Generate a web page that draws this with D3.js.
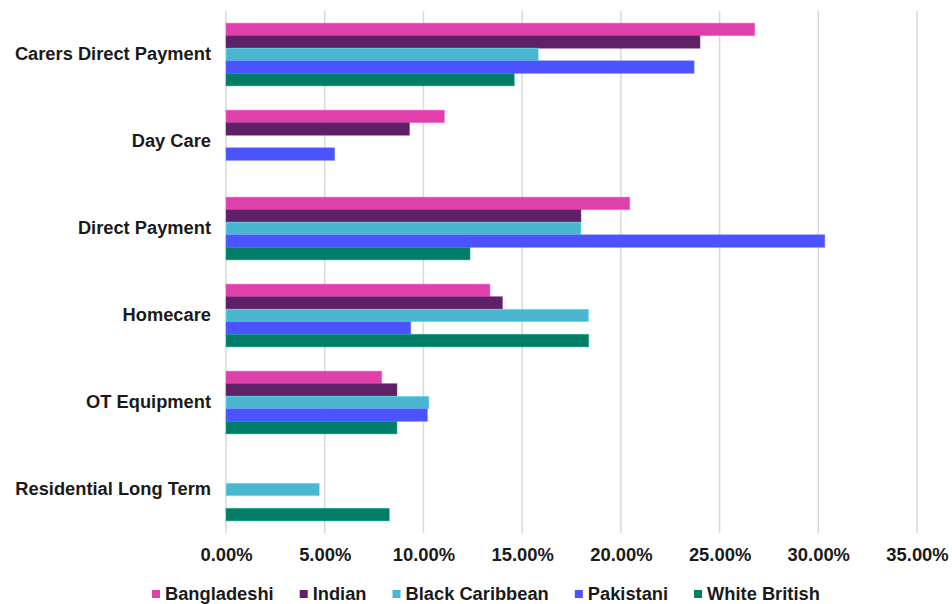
<!DOCTYPE html>
<html>
<head>
<meta charset="utf-8">
<script src="https://cdn.jsdelivr.net/npm/d3@7"></script>
<style>
  html, body { margin: 0; padding: 0; background: #fff; }
  svg text { font-family: "Liberation Sans", Arial, sans-serif; font-weight: bold; fill: #1a1a1a; }
</style>
</head>
<body>
<svg id="chart" width="952" height="604"></svg>
<script>
const categories = ["Carers Direct Payment", "Day Care", "Direct Payment", "Homecare", "OT Equipment", "Residential Long Term"];
const seriesNames = ["Bangladeshi", "Indian", "Black Caribbean", "Pakistani", "White British"];
const seriesColors = ["#E040AA", "#5E2166", "#4AB6D0", "#4B53FF", "#007C67"];
// values in percent, per series, in category order (null = no bar)
const bangladeshi    = [26.78, 11.06, 20.45, 13.37, 7.89, null];
const indian         = [24.01, 9.29, 17.98, 14.00, 8.66, null];
const blackCaribbean = [15.82, null, 17.98, 18.37, 10.28, 4.73];
const pakistani      = [23.71, 5.50, 30.33, 9.36, 10.20, null];
const whiteBritish   = [14.60, null, 12.36, 18.37, 8.66, 8.27];
const seriesValues = [bangladeshi, indian, blackCaribbean, pakistani, whiteBritish];
const xTicks = [0, 5, 10, 15, 20, 25, 30, 35];

const svg = d3.select("#chart");
const x = d3.scaleLinear().domain([0, 35]).range([226, 917]);
const y = d3.scaleBand().domain(categories).range([11, 533]).paddingInner(0.279).paddingOuter(0.1395);
const ySub = d3.scaleBand().domain(seriesNames).range([0, y.bandwidth()]);

// gridlines
svg.append("g").selectAll("line").data(xTicks).join("line")
  .attr("x1", d => x(d)).attr("x2", d => x(d))
  .attr("y1", 11).attr("y2", 533)
  .attr("stroke", "#d9d9d9").attr("stroke-width", 1.5);

// bars
const rows = [];
categories.forEach((c, ci) => {
  seriesNames.forEach((s, si) => {
    const v = seriesValues[si][ci];
    if (v !== null) rows.push({ c, s, v, color: seriesColors[si] });
  });
});
svg.append("g").selectAll("rect").data(rows).join("rect")
  .attr("x", x(0))
  .attr("y", d => y(d.c) + ySub(d.s))
  .attr("width", d => x(d.v) - x(0))
  .attr("height", ySub.bandwidth())
  .attr("fill", d => d.color)
  .attr("stroke", d => d3.color(d.color).brighter(0.9))
  .attr("stroke-opacity", 0.6)
  .attr("stroke-width", 0.8);

// y labels
const yAxis = d3.axisLeft(y).tickSize(0).tickPadding(0);
const gy = svg.append("g").attr("transform", "translate(211,0)").call(yAxis);
gy.select(".domain").remove();
gy.selectAll("text")
  .attr("font-size", 18.3).attr("fill", "#1a1a1a")
  .style("font-family", '"Liberation Sans", Arial, sans-serif').style("font-weight", "bold");

// x tick labels
const xAxis = d3.axisBottom(x).tickValues(xTicks).tickSize(0).tickPadding(0)
  .tickFormat(d => d3.format(".2f")(d) + "%");
const gx = svg.append("g").attr("transform", "translate(0,548)").call(xAxis);
gx.select(".domain").remove();
gx.selectAll("text")
  .attr("dy", "0.71em")
  .attr("font-size", 18.4).attr("fill", "#1a1a1a")
  .style("font-family", '"Liberation Sans", Arial, sans-serif').style("font-weight", "bold");

// legend
const legend = svg.append("g");
let lx = 152;
seriesNames.forEach((s, i) => {
  const g = legend.append("g").attr("transform", `translate(${lx},0)`);
  g.append("rect").attr("x", 0).attr("y", 590).attr("width", 8).attr("height", 8).attr("fill", seriesColors[i]);
  const t = g.append("text").attr("x", 13).attr("y", 600).attr("font-size", 18.3).text(s);
  lx += 13 + t.node().getComputedTextLength() + 26;
});
</script>
</body>
</html>
